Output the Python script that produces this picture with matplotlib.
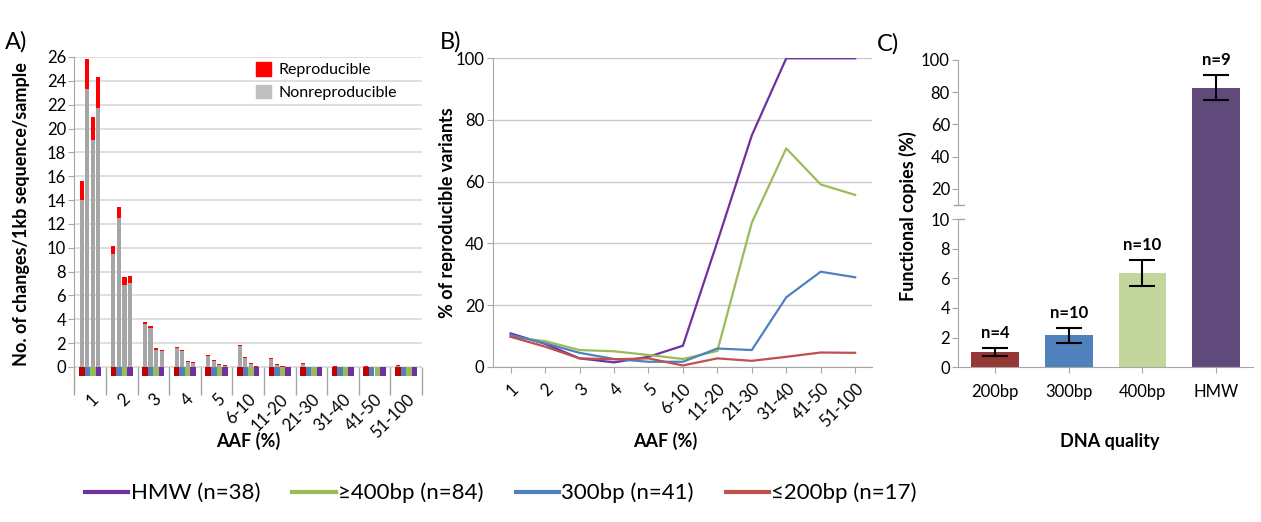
import numpy as np
import matplotlib
matplotlib.use('Agg')
import matplotlib.pyplot as plt
from matplotlib.patches import Patch
from matplotlib.lines import Line2D
from matplotlib.transforms import Bbox

plt.rcParams['font.family'] = ['Lato', 'DejaVu Sans']

W, H = 1261, 522

# ---- data ----
cats = ['1', '2', '3', '4', '5', '6-10', '11-20', '21-30', '31-40', '41-50', '51-100']
groups = ['≤200bp', '300bp', '≥400bp', 'HMW']

# panel A: changes/1kb/sample, per group (order in each cluster: 200, 300, 400, HMW)
nonrep = [
    [14.0, 9.5, 3.6, 1.6, 0.92, 1.77, 0.65, 0.22, 0.0, 0.0, 0.08],
    [23.3, 12.5, 3.25, 1.3, 0.46, 0.74, 0.17, 0.0, 0.0, 0.0, 0.0],
    [19.0, 6.9, 1.4, 0.45, 0.17, 0.25, 0.0, 0.0, 0.0, 0.0, 0.0],
    [21.7, 7.05, 1.35, 0.35, 0.1, 0.0, 0.0, 0.0, 0.0, 0.0, 0.0],
]
total = [
    [15.6, 10.15, 3.8, 1.7, 1.03, 1.86, 0.74, 0.33, 0.08, 0.08, 0.16],
    [25.85, 13.4, 3.45, 1.4, 0.55, 0.83, 0.26, 0.0, 0.0, 0.0, 0.0],
    [21.0, 7.55, 1.55, 0.5, 0.26, 0.34, 0.06, 0.0, 0.0, 0.0, 0.0],
    [24.35, 7.65, 1.45, 0.42, 0.17, 0.06, 0.0, 0.0, 0.0, 0.0, 0.0],
]

# panel B: % of reproducible variants
pct_hmw = [10.8, 7.4, 2.7, 1.4, 3.2, 6.8, 40.5, 75.0, 100, 100, 100]
pct_400 = [9.7, 8.3, 5.4, 5.0, 3.8, 2.5, 5.1, 46.7, 70.8, 59.1, 55.7]
pct_300 = [10.3, 7.6, 4.5, 2.5, 1.6, 1.6, 5.9, 5.4, 22.5, 30.8, 29.0]
pct_200 = [9.7, 6.5, 2.7, 2.4, 2.7, 0.4, 2.7, 1.9, 3.2, 4.6, 4.5]
legend_labels = ['HMW (n=38)', '≥400bp (n=84)', '300bp (n=41)', '≤200bp (n=17)']

# panel C: functional copies
quality = ['200bp', '300bp', '400bp', 'HMW']
func = [1.0, 2.15, 6.35, 82.4]
err_lo = [0.24, 0.5, 0.88, 7.4]
err_hi = [0.27, 0.47, 0.87, 8.0]
n_lbl = ['n=4', 'n=10', 'n=10', 'n=9']

sq_colors = ['#c00000', '#4f81bd', '#9bbb59', '#7030a0']
line_colors = {'HMW': '#7030a0', '400': '#9bbb59', '300': '#4f81bd', '200': '#c0504d'}
c_colors = ['#953735', '#4f81bd', '#c3d69b', '#604a7b']
spine_col = '#a6a6a6'
tick_fs = 12
lab_fs = 13

fig = plt.figure(figsize=(W / 100, H / 100), dpi=100)

# ---------------- panel A ----------------
axA = fig.add_axes([74.3 / W, 1 - 389.6 / H, 347.6 / W, 332.6 / H])
x = np.arange(len(cats))
slot = 0.177
for j in range(len(groups)):
    xs = x + (j - 1.5) * slot
    g = np.array(nonrep[j])
    t = np.array(total[j])
    axA.bar(xs, g, width=0.127, color='#a6a6a6', zorder=3)
    axA.bar(xs, t - g, bottom=g, width=0.127, color='#ff0000', zorder=3)
    axA.bar(xs, -0.76, width=slot, color=sq_colors[j], zorder=3)
axA.vlines(np.arange(len(cats) + 1) - 0.5, 0, -2.35, colors=spine_col, lw=1, clip_on=False)
axA.set_xlim(-0.5, len(cats) - 0.5)
axA.set_ylim(-1.9, 26)
axA.set_yticks(np.arange(0, 27, 2))
axA.yaxis.grid(True, color='#d9d9d9', lw=1.2, zorder=0)
axA.set_axisbelow(True)
axA.set_xticks(x)
axA.set_xticklabels(cats, rotation=45, ha='right', rotation_mode='anchor', fontsize=tick_fs)
axA.tick_params(axis='x', length=0, pad=1)
axA.tick_params(axis='y', length=4, color=spine_col, labelsize=tick_fs, pad=2)
for s in ['top', 'right', 'bottom']:
    axA.spines[s].set_visible(False)
axA.spines['left'].set_color(spine_col)
axA.legend(handles=[Patch(color='#ff0000', label='Reproducible'),
                    Patch(color='#bfbfbf', label='Nonreproducible')],
           loc='upper left', bbox_to_anchor=(0.522, 0.985), frameon=False, fontsize=11.5,
           handlelength=0.95, handleheight=0.95, handletextpad=0.5, labelspacing=0.45,
           borderpad=0, borderaxespad=0)
fig.text(22 / W, 1 - 214 / H, 'No. of changes/1kb sequence/sample', rotation=90,
         ha='center', va='center', fontsize=lab_fs, fontweight='bold')
fig.text(248 / W, 1 - 441 / H, 'AAF (%)', ha='center', va='center', fontsize=lab_fs, fontweight='bold')
fig.text(5 / W, 1 - 42 / H, 'A)', ha='left', va='center', fontsize=17)

# ---------------- panel B ----------------
axB = fig.add_axes([492.7 / W, 1 - 366.7 / H, 379 / W, 308.4 / H])
axB.plot(x, pct_hmw, color=line_colors['HMW'], lw=1.6)
axB.plot(x, pct_400, color=line_colors['400'], lw=1.6)
axB.plot(x, pct_300, color=line_colors['300'], lw=1.6)
axB.plot(x, pct_200, color=line_colors['200'], lw=1.6)
axB.set_xlim(-0.52, 10.48)
axB.set_ylim(0, 100)
axB.set_yticks(np.arange(0, 101, 20))
axB.yaxis.grid(True, color='#c8c8c8', lw=1)
axB.set_axisbelow(True)
axB.set_xticks(x)
axB.set_xticklabels(cats, rotation=45, ha='right', rotation_mode='anchor', fontsize=tick_fs)
axB.tick_params(axis='x', length=4, color=spine_col, pad=6)
axB.tick_params(axis='y', length=4, color=spine_col, labelsize=tick_fs, pad=2)
for s in ['top', 'right']:
    axB.spines[s].set_visible(False)
for s in ['left', 'bottom']:
    axB.spines[s].set_color(spine_col)
fig.text(447 / W, 1 - 213 / H, '% of reproducible variants', rotation=90,
         ha='center', va='center', fontsize=lab_fs, fontweight='bold')
fig.text(665 / W, 1 - 441 / H, 'AAF (%)', ha='center', va='center', fontsize=lab_fs, fontweight='bold')
fig.text(440 / W, 1 - 42 / H, 'B)', ha='left', va='center', fontsize=17)

# ---------------- panel C (broken axis) ----------------
left_c, w_c = 958.3 / W, 294.7 / W
axCu = fig.add_axes([left_c, 1 - 205 / H, w_c, 145 / H])
axCl = fig.add_axes([left_c, 1 - 367.3 / H, w_c, 148.3 / H])
xc = np.arange(len(quality))
axCu.bar(xc, func, width=0.65, color=c_colors, zorder=2)
low_bars = axCl.bar(xc, func, width=0.65, color=c_colors, zorder=2)
# let the lower bars run up through the break gap so the tall bar looks continuous
gap_box = Bbox([[axCl.bbox.x0, axCl.bbox.y0], [axCl.bbox.x1, axCu.bbox.y0]])
for p in low_bars:
    p.set_clip_box(gap_box)
for ax in (axCu, axCl):
    ax.set_xlim(-0.5, len(quality) - 0.5)
    for s in ['top', 'right']:
        ax.spines[s].set_visible(False)
    ax.spines['left'].set_color(spine_col)
    ax.spines['bottom'].set_color(spine_col)
    ax.tick_params(axis='y', length=4, color=spine_col, labelsize=tick_fs, pad=2)
axCu.set_ylim(10, 100)
axCu.set_yticks([20, 40, 60, 80, 100])
axCu.spines['bottom'].set_visible(False)
axCu.set_xticks([])
axCl.set_ylim(0, 10)
axCl.set_yticks(np.arange(0, 11, 2))
axCl.set_xticks(xc)
axCl.set_xticklabels(quality, fontsize=tick_fs)
axCl.tick_params(axis='x', length=4, color=spine_col, pad=8)

# error bars + n labels: small groups on the lower axis, HMW on the upper
yerr = np.array([err_lo, err_hi])
low_idx = [0, 1, 2]
axCl.errorbar(xc[low_idx], np.array(func)[low_idx], yerr=yerr[:, low_idx], fmt='none',
              ecolor='black', elinewidth=1.5, capsize=9.5, capthick=1.5, zorder=3)
axCu.errorbar(xc[3:], np.array(func)[3:], yerr=yerr[:, 3:], fmt='none',
              ecolor='black', elinewidth=1.5, capsize=9.5, capthick=1.5, zorder=3)
for i in range(len(quality)):
    ax = axCl if i in low_idx else axCu
    ax.annotate(n_lbl[i], (xc[i], func[i] + err_hi[i]), xytext=(0, 11),
                textcoords='offset points', ha='center', va='center',
                fontsize=12, fontweight='bold', annotation_clip=False)
# break marks
axCu.plot([-0.014, 0.02], [0, 0], transform=axCu.transAxes, color=spine_col, lw=1, clip_on=False)
axCl.plot([0, 0.02], [1, 1], transform=axCl.transAxes, color=spine_col, lw=1, clip_on=False)

fig.text(907.5 / W, 1 - 216 / H, 'Functional copies (%)', rotation=90,
         ha='center', va='center', fontsize=lab_fs, fontweight='bold')
fig.text(1110 / W, 1 - 442 / H, 'DNA quality', ha='center', va='center', fontsize=lab_fs, fontweight='bold')
fig.text(877 / W, 1 - 44 / H, 'C)', ha='left', va='center', fontsize=17)

# ---------------- bottom legend ----------------
handles = [Line2D([], [], color=line_colors[k], lw=3, label=l)
           for k, l in zip(['HMW', '400', '300', '200'], legend_labels)]
fig.legend(handles=handles, loc='center left', bbox_to_anchor=(85 / W, 1 - 493 / H), ncol=4,
           frameon=False, fontsize=16,
           handlelength=1.95, handletextpad=0.1, columnspacing=1.45, borderpad=0, borderaxespad=0)

fig.savefig('out.png', dpi=100)
